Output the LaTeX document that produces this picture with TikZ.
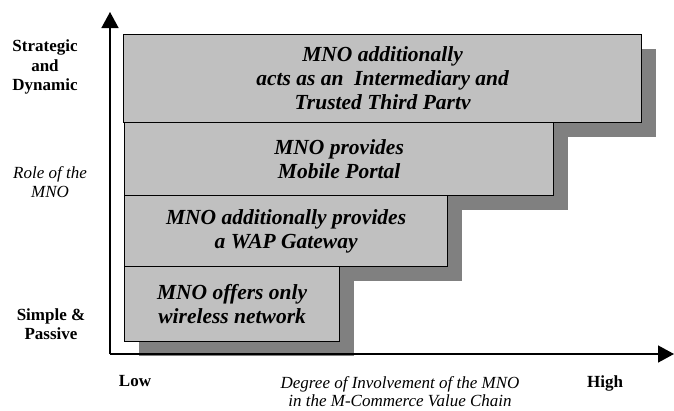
\documentclass[tikz,border=0pt]{standalone}
\usepackage{fontspec}
\setmainfont{Liberation Serif}
\usepackage{tikz}
\usetikzlibrary{arrows.meta,shadows}
\definecolor{boxgray}{HTML}{C0C0C0}
\definecolor{shadegray}{HTML}{808080}

\begin{document}
\begin{tikzpicture}[x=1pt,y=-1pt,
		rolebox/.style={draw=black,line width=1.2pt,fill=boxgray,anchor=north west,inner sep=0pt,
			align=center,font=\fontsize{21.5}{24}\selectfont\bfseries\itshape,
			drop shadow={shadow xshift=14pt,shadow yshift=-14pt,fill=shadegray,opacity=1}},
		axislabel/.style={align=center,font=\fontsize{17}{19.5}\selectfont\bfseries},
		axistitle/.style={align=center,font=\fontsize{17}{18.5}\selectfont\itshape},
		axisline/.style={line width=1.5pt,-{Triangle[length=16pt,width=17pt]}}]
			\useasboundingbox (0,0) rectangle (674,410);
			% Boxes
			\node[rolebox,minimum width=518pt,minimum height=88pt] (tpp) at (123,34)
				{MNO additionally\\acts as an\ \ Intermediary and\\Trusted Third Partv};
			\node[rolebox,minimum width=429pt,minimum height=73pt] (portal) at (124,122)
				{MNO provides\\Mobile Portal};
			\node[rolebox,minimum width=323pt,minimum height=71pt] (wap) at (124,195)
				{MNO additionally provides\\a WAP Gateway};
			\node[rolebox,minimum width=215pt,minimum height=75pt] (net) at (124,266)
				{MNO offers only\\wireless network};
			% Axes
			\coordinate (origin) at (110,354);
			\coordinate (ytip) at (110,12);
			\coordinate (xtip) at (674,354);
			\draw[axisline] (origin) -- (ytip);
			\draw[axisline] (origin) -- (xtip);
			% Labels
			\node[axislabel] (strategic) at (45,67) {Strategic\\and\\Dynamic};
			\node[axistitle] (role) at (50,182) {Role of the\\MNO};
			\node[axislabel] (simple) at (51,324) {Simple \&\\Passive};
			\node[axislabel] (low) at (135,381) {Low};
			\node[axislabel] (high) at (605,383) {High};
			\node[axistitle] (degree) at (400,391.5) {Degree of Involvement of the MNO\\in the M-Commerce Value Chain};
		\end{tikzpicture}
\end{document}
